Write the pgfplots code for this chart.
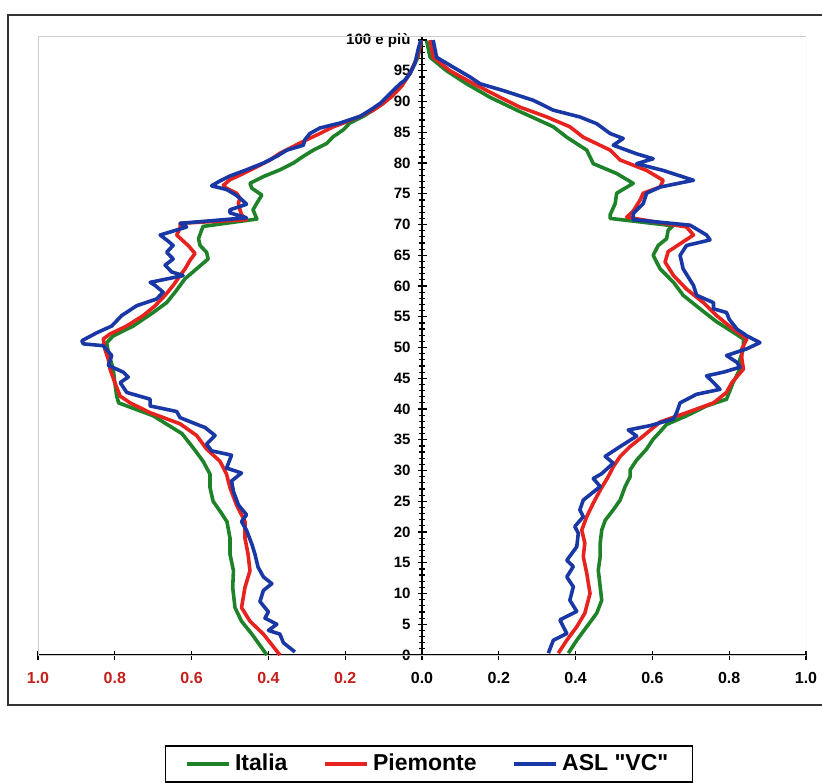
\documentclass[border=0pt]{standalone}
\usepackage{pgfplots}
\pgfplotsset{compat=1.18}
\usepackage{fontspec}
\setmainfont{Liberation Sans}
\newfontfamily\nomapfont{Liberation Sans}
\definecolor{cgreen}{RGB}{30,130,40}
\definecolor{cred}{RGB}{230,35,30}
\definecolor{cblue}{RGB}{25,55,165}
\definecolor{clabred}{RGB}{200,30,25}
\begin{document}
\begin{tikzpicture}
\useasboundingbox (0pt,0pt) rectangle (411pt,391pt);
\draw[black!80, line width=1.1pt] (4pt,38.5pt) rectangle (425pt,383.5pt);
\begin{axis}[
 at={(19pt,63.5pt)}, anchor=south west, scale only axis, width=384pt, height=309pt,
 xmin=-1, xmax=1, ymin=0, ymax=100.5,
 axis lines=middle, axis line style={-, line width=0.7pt},
 hide obscured x ticks=false, hide obscured y ticks=false,
 xtick={-1,-0.8,-0.6,-0.4,-0.2,0,0.2,0.4,0.6,0.8,1},
 xticklabels={{\color{clabred}1.0},{\color{clabred}0.8},{\color{clabred}0.6},{\color{clabred}0.4},{\color{clabred}0.2},0.0,0.2,0.4,0.6,0.8,1.0},
 ytick={0,5,...,100},
 yticklabels={0,5,10,15,20,25,30,35,40,45,50,55,60,65,70,75,80,85,90,95,100 e più},
 minor y tick num=4,
 tick align=center, major tick length=4.5pt, minor tick length=3pt,
 tick style={black, line width=0.6pt},
 xticklabel style={font=\bfseries\fontsize{8}{9}\selectfont, yshift=-3pt},
 yticklabel style={font=\bfseries\fontsize{7.5}{9}\selectfont},
 no markers,
 every axis plot/.append style={line width=1.8pt, line join=round},
 legend columns=3,
 legend style={at={(0.509,-0.146)}, anchor=north, draw=black, line width=0.8pt,
   font=\bfseries\fontsize{11.5}{13}\selectfont, inner xsep=10pt, inner ysep=2pt,
   /tikz/every even column/.append style={column sep=16pt}},
 legend image code/.code={\draw[#1] (0pt,0pt) -- (21pt,0pt);},
]
\draw[black!20, line width=0.5pt] (rel axis cs:0,0) rectangle (rel axis cs:1,1);
% Italia
\addplot[cgreen] coordinates {(0.381,0.3) (0.403,2.4) (0.429,4.6) (0.455,6.8) (0.468,8.9) (0.464,11.1) (0.459,13.8) (0.464,16) (0.464,18.2) (0.468,20.3) (0.477,21.9) (0.498,23.6) (0.516,25.2) (0.529,27.4) (0.542,29) (0.542,30.1) (0.559,31.7) (0.585,33.5) (0.602,35.1) (0.62,36.3) (0.637,37.5) (0.689,38.9) (0.741,40.5) (0.793,41.6) (0.80,42.7) (0.81,44.3) (0.828,46.5) (0.828,48.1) (0.837,49.8) (0.837,51.4) (0.81,52.5) (0.767,54.2) (0.724,56.3) (0.68,58.5) (0.655,60.6) (0.62,62.8) (0.602,65) (0.615,66.6) (0.637,67.7) (0.641,69.1) (0.654,69.8) (0.49,71) (0.49,71.6) (0.503,73.4) (0.507,75.1) (0.55,76.7) (0.507,78.3) (0.446,79.9) (0.429,82.1) (0.377,84.2) (0.342,85.9) (0.307,86.9) (0.247,88.6) (0.177,90.7) (0.116,92.9) (0.064,95) (0.021,97.2) (0.012,99.9)};
\addlegendentry{Italia}
\addplot[cgreen, forget plot] coordinates {(-0.404,0) (-0.443,3.4) (-0.47,5.5) (-0.487,7.7) (-0.493,11) (-0.491,13.7) (-0.50,16.4) (-0.50,19) (-0.508,21.7) (-0.526,23.4) (-0.544,25) (-0.552,27.2) (-0.552,29.4) (-0.57,31.5) (-0.596,33.7) (-0.625,36) (-0.70,38.9) (-0.79,41) (-0.795,42.1) (-0.80,44.3) (-0.804,46.5) (-0.817,49.2) (-0.821,50.8) (-0.804,51.9) (-0.752,53.5) (-0.70,55.7) (-0.665,57.3) (-0.643,59) (-0.617,61.2) (-0.587,62.8) (-0.557,64.4) (-0.561,65.5) (-0.578,66.6) (-0.582,67.7) (-0.574,69.1) (-0.57,69.7) (-0.43,70.9) (-0.44,72.4) (-0.43,73.5) (-0.417,74.8) (-0.443,75.9) (-0.448,76.7) (-0.413,77.8) (-0.37,78.9) (-0.335,80) (-0.309,81.1) (-0.283,82.1) (-0.248,83.2) (-0.231,84.3) (-0.205,85.4) (-0.188,86.5) (-0.153,87.6) (-0.127,88.6) (-0.101,89.7) (-0.083,90.8) (-0.057,92.5) (-0.031,94.6) (-0.01,97.3) (-0.002,100)};
% Piemonte
\addplot[cred] coordinates {(0.355,0.3) (0.377,2.4) (0.403,4.6) (0.424,6.8) (0.4375,10) (0.429,13.3) (0.42,16) (0.424,18.2) (0.416,20.3) (0.429,22.5) (0.446,24.7) (0.464,26.8) (0.485,29) (0.498,30.6) (0.516,32.3) (0.542,33.9) (0.576,35.6) (0.62,37.9) (0.689,39.4) (0.759,41) (0.793,42.7) (0.807,44.3) (0.837,46.5) (0.833,48.1) (0.833,49.8) (0.846,51.4) (0.81,53) (0.767,55.2) (0.733,57.3) (0.689,59.5) (0.655,61.7) (0.633,63.9) (0.641,65.6) (0.68,67.2) (0.707,68.3) (0.689,69.6) (0.533,71.2) (0.55,72.2) (0.568,74) (0.576,75.1) (0.62,76.1) (0.628,77.2) (0.585,78.8) (0.516,80.5) (0.49,82.1) (0.42,84.2) (0.385,85.9) (0.325,87.5) (0.255,89.1) (0.203,90.7) (0.134,92.9) (0.073,95) (0.029,97.2) (0.021,100)};
\addlegendentry{Piemonte}
\addplot[cred, forget plot] coordinates {(-0.37,0) (-0.413,3.4) (-0.448,5.5) (-0.47,7.7) (-0.461,11) (-0.448,13.7) (-0.453,16.4) (-0.461,19) (-0.461,21.7) (-0.483,24.4) (-0.50,27.2) (-0.509,29.4) (-0.526,31.5) (-0.561,33.5) (-0.587,35.7) (-0.63,37.6) (-0.708,39.4) (-0.76,41) (-0.786,42.1) (-0.80,44.3) (-0.8125,46.5) (-0.817,48.1) (-0.826,49.8) (-0.83,51.4) (-0.8125,52.2) (-0.769,53.5) (-0.726,55.2) (-0.695,56.8) (-0.669,58.5) (-0.648,60.1) (-0.63,61.7) (-0.617,62.8) (-0.604,64.2) (-0.591,65.3) (-0.609,66.6) (-0.639,68.3) (-0.63,69.4) (-0.63,70.2) (-0.457,70.8) (-0.47,71.6) (-0.474,72.4) (-0.478,73.5) (-0.474,74.3) (-0.483,75.1) (-0.509,75.9) (-0.517,76.4) (-0.50,77.3) (-0.465,78.3) (-0.43,79.4) (-0.396,80.5) (-0.37,81.6) (-0.335,82.7) (-0.30,83.8) (-0.266,84.8) (-0.231,85.9) (-0.205,86.5) (-0.161,87.6) (-0.127,88.6) (-0.101,89.7) (-0.079,90.8) (-0.053,92.5) (-0.031,94.6) (-0.012,97.3) (-0.002,100)};
% ASL VC
\addplot[cblue] coordinates {(0.329,0.3) (0.342,2.4) (0.377,3.5) (0.359,5.7) (0.403,7.1) (0.385,8.9) (0.394,11.1) (0.377,12.7) (0.394,14.4) (0.377,15.4) (0.403,17.6) (0.407,19.8) (0.398,20.9) (0.42,22.5) (0.411,23.6) (0.42,25.2) (0.464,27.4) (0.446,28.7) (0.468,29.5) (0.498,31.2) (0.477,32.3) (0.516,33.9) (0.559,35.6) (0.537,36.6) (0.594,37.3) (0.655,38.4) (0.663,39.4) (0.672,41) (0.715,42.4) (0.776,43.2) (0.759,44.3) (0.741,45.4) (0.785,46) (0.828,46.8) (0.82,47.6) (0.793,48.7) (0.846,49.8) (0.88,50.8) (0.846,51.9) (0.82,53) (0.80,54.6) (0.793,55.7) (0.759,56.3) (0.759,57.3) (0.715,58.5) (0.707,60.1) (0.68,62.8) (0.672,65) (0.689,66.6) (0.75,67.5) (0.741,68.3) (0.698,69.9) (0.55,70.8) (0.55,71.8) (0.576,73.4) (0.585,75.1) (0.62,76.1) (0.707,77.2) (0.628,78.8) (0.559,79.9) (0.602,80.7) (0.559,81.5) (0.498,82.9) (0.524,84) (0.49,84.8) (0.455,86.4) (0.411,87.5) (0.342,88.6) (0.29,90.2) (0.211,91.8) (0.151,92.9) (0.125,94) (0.081,95.6) (0.038,97.2) (0.029,100)};
\addlegendentry{ASL {\nomapfont"VC"}}
\addplot[cblue, forget plot] coordinates {(-0.331,0.5) (-0.361,2) (-0.37,3.4) (-0.40,4) (-0.378,5) (-0.409,6) (-0.40,7) (-0.422,8.7) (-0.413,10.5) (-0.391,11.6) (-0.413,12.7) (-0.427,14.3) (-0.435,16.4) (-0.443,18) (-0.457,20.3) (-0.47,21.7) (-0.457,22.8) (-0.478,24.4) (-0.491,26.6) (-0.496,28.3) (-0.47,29.6) (-0.509,30.4) (-0.496,32.5) (-0.548,33.2) (-0.561,34.3) (-0.539,35.7) (-0.565,37) (-0.578,37.3) (-0.63,38.6) (-0.639,39.6) (-0.708,40.5) (-0.708,41.6) (-0.769,42.7) (-0.786,44.3) (-0.765,45.2) (-0.778,46) (-0.817,47.1) (-0.808,48.7) (-0.83,50.3) (-0.882,50.6) (-0.886,51.1) (-0.847,52.4) (-0.808,53.5) (-0.782,55.2) (-0.743,56.8) (-0.691,57.9) (-0.674,59) (-0.695,60.1) (-0.708,60.6) (-0.622,61.7) (-0.652,62.3) (-0.669,63.4) (-0.648,64.4) (-0.665,65.5) (-0.648,66.6) (-0.665,67.5) (-0.682,68.3) (-0.613,69.6) (-0.63,70.2) (-0.457,71.1) (-0.50,71.9) (-0.50,72.4) (-0.457,73.3) (-0.47,74.1) (-0.487,74.9) (-0.509,75.7) (-0.548,76.3) (-0.526,77.1) (-0.50,77.9) (-0.457,78.9) (-0.413,80) (-0.378,81.1) (-0.352,82.1) (-0.309,82.9) (-0.305,83.8) (-0.292,84.8) (-0.266,85.7) (-0.214,86.5) (-0.161,87.6) (-0.135,88.6) (-0.109,89.7) (-0.088,91) (-0.075,91.8) (-0.057,92.9) (-0.044,93.5) (-0.031,94.6) (-0.018,96.3) (-0.01,98.5) (-0.003,100)};
\end{axis}
\end{tikzpicture}
\end{document}
